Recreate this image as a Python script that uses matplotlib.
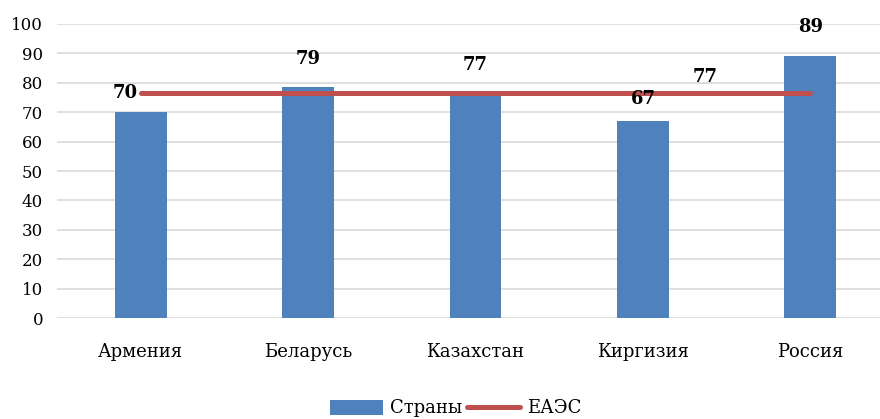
import matplotlib.pyplot as plt
import numpy as np

countries = ["Армения", "Беларусь", "Казахстан", "Киргизия", "Россия"]
country_values = [70, 78.6, 77.2, 67, 89]
eaeu_values = [76.6, 76.6, 76.6, 76.6, 76.6]
eaeu_label = 77
y_ticks = list(range(0, 101, 10))

plt.rcParams['font.family'] = ['DejaVu Serif']

fig = plt.figure(figsize=(8.8, 4.19), dpi=100)
ax = fig.add_axes([57 / 880, 101 / 419, 837 / 880, 294 / 419])

x = np.arange(len(countries))
bars = ax.bar(x, country_values, width=0.31, color="#4f81bd", label="Страны", zorder=2)
line, = ax.plot(x, eaeu_values, color="#c0504d", linewidth=3.6, solid_capstyle="round",
                label="ЕАЭС", zorder=3)

# label offsets (points) roughly as Excel placed them
offsets = [(-11, 14), (0, 20), (0, 19), (0, 16), (0, 21)]
for i, v in enumerate(country_values):
    dx, dy = offsets[i]
    ax.annotate(f"{v:.0f}", (i, v), xytext=(dx, dy), textcoords="offset points",
                ha="center", va="center", fontsize=13, fontweight="bold")

ax.annotate(str(eaeu_label), (3.37, eaeu_values[3]), xytext=(0, 11.5),
            textcoords="offset points", ha="center", va="center",
            fontsize=13, fontweight="bold")

ax.set_xlim(-0.5, 4.5)
ax.set_ylim(0, 100)
ax.set_yticks(y_ticks)
ax.set_xticks(x)
ax.set_xticklabels(countries, fontsize=13)
ax.tick_params(axis="y", labelsize=12, length=0, pad=10)
ax.tick_params(axis="x", length=0, pad=18)
ax.grid(axis="y", color="#d9d9d9", linewidth=1.2, zorder=0)
for s in ax.spines.values():
    s.set_visible(False)

fig.legend([bars, line], ["Страны", "ЕАЭС"], loc="lower center",
           bbox_to_anchor=(0.518, -0.035), ncol=2, frameon=False,
           fontsize=13, handlelength=2.9, handleheight=0.9,
           handletextpad=0.4, columnspacing=0.3)

fig.savefig("out.png", dpi=100)
